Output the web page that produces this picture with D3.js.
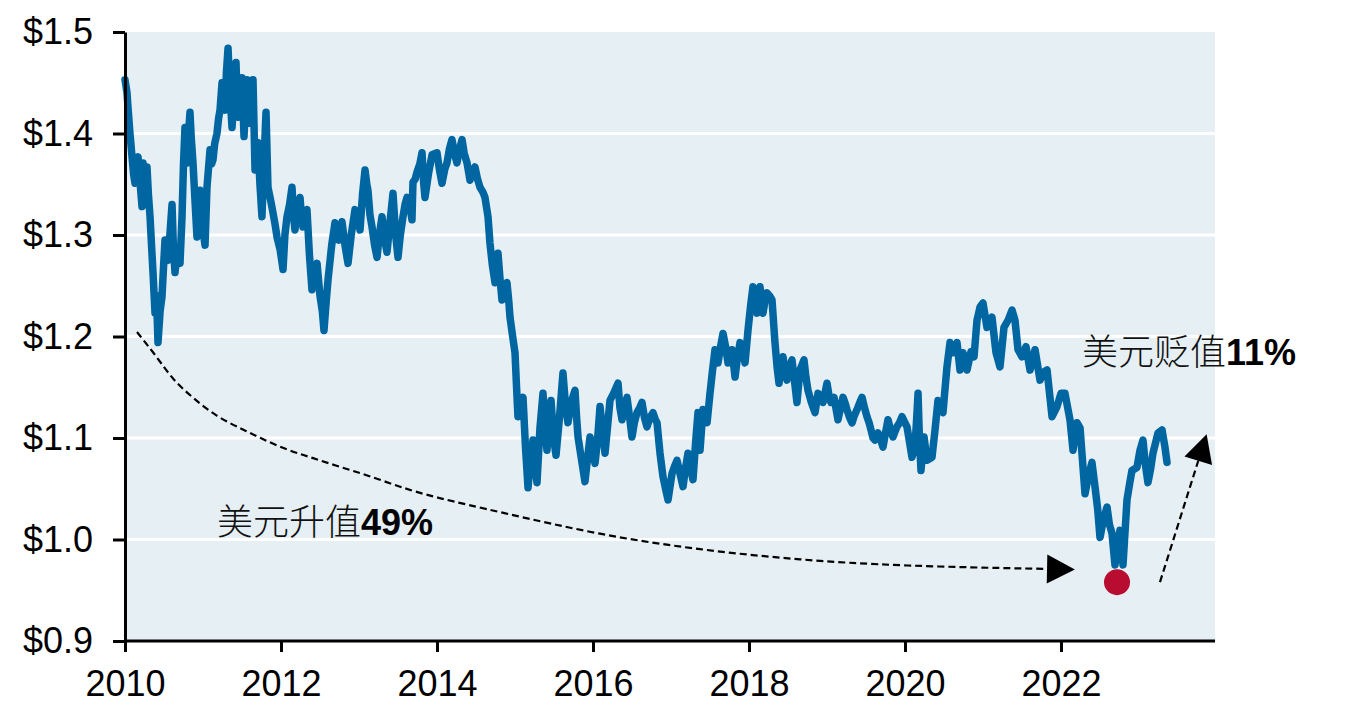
<!DOCTYPE html>
<html>
<head>
<meta charset="utf-8">
<script src="https://cdn.jsdelivr.net/npm/d3@7"></script>
<style>
  html, body { margin: 0; padding: 0; background: #ffffff; }
  svg { display: block; }
  .tick text { font-family: "Liberation Sans", Arial, sans-serif; font-size: 36px; fill: #000; }
</style>
</head>
<body>
<svg id="chart" width="1346" height="715"></svg>
<script>
// ---- data (decimal year, USD per EUR) ----
const dates = [2010.000,2010.026,2010.038,2010.064,2010.090,2010.110,2010.128,2010.150,2010.167,2010.195,2010.218,2010.231,2010.260,2010.282,2010.300,2010.321,2010.340,2010.359,2010.385,2010.405,2010.423,2010.450,2010.474,2010.495,2010.513,2010.530,2010.551,2010.575,2010.603,2010.620,2010.641,2010.670,2010.705,2010.731,2010.750,2010.769,2010.795,2010.815,2010.833,2010.850,2010.872,2010.900,2010.923,2010.945,2010.962,2010.990,2011.026,2011.051,2011.070,2011.090,2011.110,2011.128,2011.150,2011.179,2011.200,2011.218,2011.244,2011.262,2011.282,2011.300,2011.321,2011.345,2011.372,2011.400,2011.423,2011.440,2011.449,2011.475,2011.500,2011.526,2011.545,2011.564,2011.585,2011.603,2011.620,2011.641,2011.667,2011.690,2011.705,2011.730,2011.756,2011.780,2011.808,2011.833,2011.865,2011.897,2011.925,2011.949,2011.990,2012.026,2012.050,2012.077,2012.110,2012.141,2012.160,2012.179,2012.210,2012.244,2012.262,2012.282,2012.310,2012.333,2012.365,2012.397,2012.430,2012.462,2012.500,2012.530,2012.551,2012.580,2012.603,2012.650,2012.692,2012.740,2012.782,2012.820,2012.859,2012.900,2012.949,2012.980,2013.013,2013.045,2013.077,2013.100,2013.115,2013.140,2013.167,2013.200,2013.231,2013.260,2013.295,2013.330,2013.359,2013.400,2013.436,2013.470,2013.500,2013.530,2013.564,2013.590,2013.615,2013.650,2013.679,2013.692,2013.720,2013.744,2013.780,2013.808,2013.830,2013.846,2013.890,2013.936,2014.000,2014.030,2014.064,2014.100,2014.128,2014.160,2014.192,2014.225,2014.256,2014.290,2014.321,2014.350,2014.385,2014.423,2014.455,2014.487,2014.520,2014.551,2014.590,2014.615,2014.654,2014.679,2014.710,2014.744,2014.782,2014.810,2014.833,2014.865,2014.897,2014.920,2014.936,2014.970,2015.000,2015.020,2015.038,2015.070,2015.103,2015.135,2015.167,2015.200,2015.231,2015.260,2015.282,2015.320,2015.359,2015.385,2015.410,2015.435,2015.462,2015.495,2015.526,2015.570,2015.615,2015.650,2015.679,2015.720,2015.769,2015.790,2015.808,2015.850,2015.897,2015.930,2015.962,2015.990,2016.026,2016.060,2016.090,2016.120,2016.154,2016.185,2016.218,2016.270,2016.321,2016.345,2016.372,2016.400,2016.436,2016.470,2016.500,2016.530,2016.564,2016.600,2016.628,2016.660,2016.692,2016.730,2016.769,2016.800,2016.821,2016.859,2016.897,2016.930,2016.962,2017.013,2017.045,2017.077,2017.115,2017.154,2017.185,2017.218,2017.250,2017.282,2017.315,2017.346,2017.372,2017.410,2017.462,2017.500,2017.530,2017.564,2017.603,2017.635,2017.667,2017.700,2017.731,2017.760,2017.782,2017.821,2017.850,2017.885,2017.920,2017.949,2017.987,2018.020,2018.051,2018.080,2018.103,2018.141,2018.179,2018.205,2018.231,2018.265,2018.295,2018.333,2018.360,2018.385,2018.410,2018.436,2018.460,2018.487,2018.520,2018.551,2018.585,2018.615,2018.654,2018.680,2018.705,2018.730,2018.756,2018.800,2018.846,2018.885,2018.920,2018.949,2019.000,2019.025,2019.051,2019.090,2019.141,2019.175,2019.205,2019.230,2019.256,2019.290,2019.321,2019.350,2019.385,2019.420,2019.449,2019.480,2019.513,2019.540,2019.564,2019.590,2019.615,2019.654,2019.690,2019.718,2019.750,2019.782,2019.815,2019.846,2019.870,2019.897,2019.930,2019.962,2020.000,2020.026,2020.060,2020.090,2020.128,2020.150,2020.167,2020.185,2020.205,2020.244,2020.282,2020.346,2020.385,2020.423,2020.460,2020.487,2020.515,2020.538,2020.577,2020.615,2020.667,2020.705,2020.744,2020.795,2020.846,2020.885,2020.923,2020.962,2021.000,2021.051,2021.115,2021.167,2021.218,2021.269,2021.321,2021.372,2021.410,2021.449,2021.500,2021.551,2021.603,2021.667,2021.731,2021.780,2021.821,2021.885,2021.949,2022.000,2022.051,2022.115,2022.154,2022.205,2022.244,2022.308,2022.350,2022.397,2022.436,2022.470,2022.500,2022.545,2022.590,2022.620,2022.654,2022.692,2022.720,2022.756,2022.780,2022.795,2022.846,2022.880,2022.910,2022.974,2023.013,2023.051,2023.080,2023.115,2023.150,2023.179,2023.244,2023.295,2023.333,2023.359];
const rates = [1.453,1.440,1.426,1.400,1.377,1.360,1.351,1.372,1.377,1.350,1.328,1.371,1.355,1.367,1.340,1.318,1.290,1.263,1.223,1.240,1.194,1.225,1.239,1.270,1.295,1.283,1.275,1.300,1.330,1.290,1.263,1.285,1.272,1.318,1.370,1.406,1.371,1.400,1.421,1.395,1.371,1.330,1.298,1.320,1.344,1.310,1.290,1.347,1.365,1.384,1.370,1.374,1.390,1.400,1.415,1.423,1.450,1.435,1.423,1.460,1.484,1.440,1.406,1.440,1.470,1.430,1.416,1.440,1.455,1.397,1.430,1.453,1.425,1.410,1.440,1.453,1.364,1.380,1.391,1.350,1.318,1.370,1.421,1.347,1.335,1.322,1.310,1.298,1.285,1.266,1.300,1.318,1.330,1.347,1.320,1.305,1.325,1.337,1.318,1.308,1.320,1.325,1.280,1.246,1.260,1.272,1.240,1.225,1.206,1.235,1.256,1.290,1.312,1.295,1.313,1.290,1.272,1.300,1.325,1.318,1.305,1.340,1.364,1.350,1.344,1.320,1.308,1.290,1.278,1.300,1.318,1.295,1.283,1.315,1.341,1.300,1.278,1.300,1.318,1.330,1.337,1.330,1.315,1.352,1.355,1.362,1.370,1.381,1.350,1.337,1.360,1.379,1.381,1.365,1.351,1.365,1.371,1.385,1.394,1.380,1.371,1.385,1.394,1.380,1.371,1.354,1.362,1.367,1.355,1.347,1.342,1.337,1.318,1.292,1.270,1.253,1.282,1.255,1.236,1.245,1.253,1.235,1.219,1.200,1.184,1.150,1.121,1.130,1.140,1.090,1.051,1.080,1.098,1.070,1.056,1.110,1.144,1.110,1.088,1.120,1.137,1.100,1.083,1.120,1.164,1.130,1.115,1.135,1.147,1.120,1.101,1.080,1.057,1.080,1.101,1.088,1.075,1.100,1.131,1.110,1.085,1.110,1.137,1.145,1.154,1.130,1.118,1.130,1.140,1.120,1.101,1.115,1.125,1.130,1.135,1.120,1.111,1.120,1.125,1.118,1.115,1.085,1.062,1.050,1.039,1.065,1.072,1.078,1.065,1.052,1.070,1.085,1.070,1.059,1.095,1.125,1.088,1.128,1.115,1.144,1.165,1.187,1.174,1.190,1.203,1.190,1.174,1.180,1.187,1.160,1.178,1.194,1.185,1.174,1.206,1.230,1.249,1.235,1.223,1.249,1.223,1.235,1.243,1.240,1.236,1.194,1.170,1.154,1.170,1.180,1.168,1.157,1.170,1.177,1.155,1.135,1.167,1.172,1.177,1.160,1.147,1.135,1.125,1.144,1.140,1.135,1.154,1.142,1.135,1.140,1.118,1.130,1.140,1.135,1.128,1.120,1.115,1.122,1.128,1.135,1.140,1.130,1.121,1.115,1.108,1.100,1.098,1.105,1.098,1.091,1.105,1.118,1.108,1.101,1.106,1.111,1.115,1.121,1.115,1.111,1.095,1.081,1.091,1.120,1.144,1.100,1.068,1.101,1.078,1.081,1.108,1.137,1.128,1.125,1.150,1.170,1.194,1.184,1.194,1.167,1.184,1.167,1.185,1.180,1.216,1.229,1.233,1.209,1.219,1.184,1.170,1.209,1.216,1.226,1.216,1.187,1.180,1.190,1.167,1.187,1.157,1.165,1.167,1.121,1.131,1.144,1.144,1.118,1.088,1.115,1.110,1.045,1.062,1.076,1.052,1.030,1.002,1.020,1.032,1.015,1.006,0.975,0.990,1.009,0.990,0.975,1.039,1.055,1.068,1.071,1.088,1.098,1.075,1.056,1.070,1.085,1.105,1.108,1.091,1.076];

const yTicks = [0.9, 1.0, 1.1, 1.2, 1.3, 1.4, 1.5];
const xTicks = [2010, 2012, 2014, 2016, 2018, 2020, 2022];
const gridValues = [1.0, 1.1, 1.2, 1.3, 1.4];

// annotation: trough marker, curved "dollar up" arrow, straight "dollar down" arrow
const troughPoint = [2022.718, 0.958];
const riseCurveDates = [2010.154, 2010.410, 2010.615, 2010.872, 2011.179, 2011.474, 2011.731, 2012.077, 2012.410, 2012.756, 2013.103, 2013.526, 2013.949, 2014.808, 2016.09, 2017.372, 2018.654, 2019.936, 2021.821];
const riseCurveRates = [1.2044, 1.1798, 1.1571, 1.1394, 1.1207, 1.1099, 1.1000, 1.0882, 1.0803, 1.0714, 1.0635, 1.0517, 1.0419, 1.027, 1.0044, 0.9897, 0.9798, 0.9739, 0.971];
const fallArrowDates = [2023.269, 2023.86];
const fallArrowRates = [0.958, 1.102];
const labelRise = { date: 2011.18, rate: 1.0044, cjk: "美元升值", num: "49%" };
const labelFall = { date: 2022.27, rate: 1.172, cjk: "美元贬值", num: "11%" };

// ---- drawing ----
const svg = d3.select("#chart");
const x = d3.scaleLinear().domain([2010, 2024]).range([125, 1217]);
const y = d3.scaleLinear().domain([0.9, 1.5]).range([641, 32]);

// plot background
svg.append("rect")
  .attr("x", x(2010)).attr("y", y(1.5))
  .attr("width", x(2023.975) - x(2010)).attr("height", y(0.9) - y(1.5))
  .attr("fill", "#e6eff3");

// gridlines
svg.append("g").selectAll("line").data(gridValues).join("line")
  .attr("x1", x(2010)).attr("x2", x(2023.975))
  .attr("y1", d => y(d)).attr("y2", d => y(d))
  .attr("stroke", "#ffffff").attr("stroke-width", 3);

// series line
const series = dates.map((d, i) => [d, rates[i]]);
svg.append("path")
  .datum(series)
  .attr("fill", "none")
  .attr("stroke", "#0066a1")
  .attr("stroke-width", 7.5)
  .attr("stroke-linejoin", "round")
  .attr("stroke-linecap", "round")
  .attr("d", d3.line().x(d => x(d[0])).y(d => y(d[1])));

// arrow marker
const defs = svg.append("defs");
defs.append("marker")
  .attr("id", "arrowHead")
  .attr("markerUnits", "userSpaceOnUse")
  .attr("markerWidth", 30).attr("markerHeight", 30)
  .attr("viewBox", "0 -14 27 28")
  .attr("refX", 0).attr("refY", 0)
  .attr("orient", "auto")
  .append("path")
  .attr("d", "M0,-13.5L26,0L0,13.5Z")
  .attr("fill", "#000");

// curved dashed arrow
const curvePts = riseCurveDates.map((d, i) => [x(d), y(riseCurveRates[i])]);
svg.append("path")
  .attr("d", d3.line().curve(d3.curveBasis)(curvePts))
  .attr("fill", "none")
  .attr("stroke", "#000")
  .attr("stroke-width", 2.2)
  .attr("stroke-dasharray", "7,4")
  .attr("marker-end", "url(#arrowHead)");

// straight dashed arrow (shortened by head length so the tip lands on the end point)
{
  const x0 = x(fallArrowDates[0]), y0 = y(fallArrowRates[0]);
  const x1 = x(fallArrowDates[1]), y1 = y(fallArrowRates[1]);
  const len = Math.hypot(x1 - x0, y1 - y0);
  const k = (len - 26) / len;
  svg.append("line")
    .attr("x1", x0).attr("y1", y0)
    .attr("x2", x0 + (x1 - x0) * k).attr("y2", y0 + (y1 - y0) * k)
    .attr("stroke", "#000")
    .attr("stroke-width", 2.2)
    .attr("stroke-dasharray", "7,4")
    .attr("marker-end", "url(#arrowHead)");
}

// trough dot
svg.append("circle")
  .attr("cx", x(troughPoint[0])).attr("cy", y(troughPoint[1]))
  .attr("r", 13)
  .attr("fill", "#b80c30");

// labels
function addLabel(lbl) {
  const t = svg.append("text")
    .attr("x", x(lbl.date)).attr("y", y(lbl.rate))
    .attr("font-size", 36)
    .attr("fill", "#111");
  t.append("tspan")
    .attr("font-family", "'Noto Sans CJK SC', sans-serif")
    .attr("font-weight", 300)
    .text(lbl.cjk);
  t.append("tspan")
    .attr("font-family", "'Liberation Sans', Arial, sans-serif")
    .attr("font-weight", "bold")
    .attr("fill", "#000")
    .text(lbl.num);
}
addLabel(labelRise);
addLabel(labelFall);

// axes
const yAxis = d3.axisLeft(y)
  .tickValues(yTicks)
  .tickFormat(d => "$" + d.toFixed(1))
  .tickSize(12).tickSizeOuter(0).tickPadding(20);
const gy = svg.append("g").attr("transform", `translate(${x(2010)},0)`).call(yAxis);
gy.select(".domain").attr("stroke", "#000").attr("stroke-width", 3);
gy.selectAll(".tick line").attr("stroke", "#000").attr("stroke-width", 3);

const xAxis = d3.axisBottom(x)
  .tickValues(xTicks)
  .tickFormat(d3.format("d"))
  .tickSize(11).tickSizeOuter(0).tickPadding(18);
const gx = svg.append("g").attr("transform", `translate(0,${y(0.9)})`).call(xAxis);
gx.select(".domain").attr("stroke", "#000").attr("stroke-width", 3)
  .attr("d", `M${x(2010)},0H${x(2023.975)}`);
gx.selectAll(".tick line").attr("stroke", "#000").attr("stroke-width", 3);
</script>
</body>
</html>
